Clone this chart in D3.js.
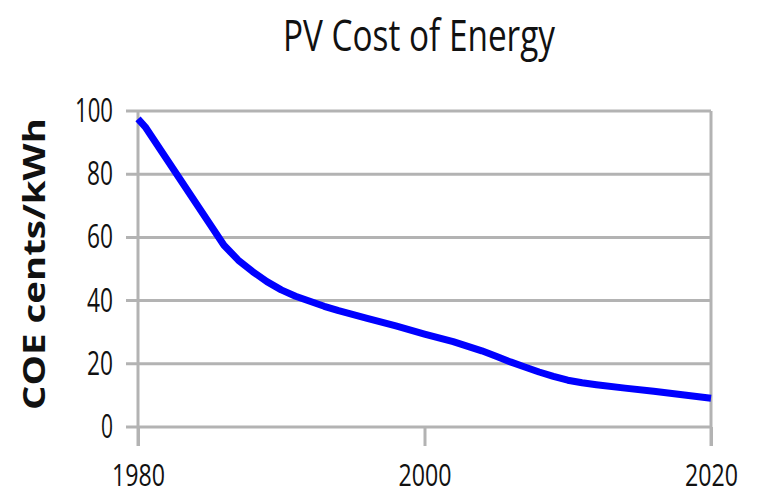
<!DOCTYPE html>
<html>
<head>
<meta charset="utf-8">
<script src="https://cdn.jsdelivr.net/npm/d3@7"></script>
<style>
  html, body { margin: 0; padding: 0; background: #fff; }
  svg { display: block; }
</style>
</head>
<body>
<svg id="chart" width="761" height="496"></svg>
<script>
// ---- data ----
const years = [1980, 1980.5, 1986, 1987, 1988, 1989, 1990, 1991, 1992, 1993, 1994, 1996, 1998, 2000, 2002, 2004, 2005, 2006, 2007, 2008, 2009, 2010, 2011, 2012, 2014, 2016, 2018, 2020];
const coe   = [97.5, 95,     57.5, 52.8, 49.2, 46.0, 43.4, 41.4, 39.8, 38.2, 36.8, 34.4, 32.0, 29.4, 27.0, 24.1, 22.4, 20.6, 19.0, 17.4, 16.0, 14.8, 14.0, 13.4, 12.3, 11.3, 10.2, 9.1];
const xTicks = [1980, 2000, 2020];
const yTicks = [0, 20, 40, 60, 80, 100];
const titleText = "PV Cost of Energy";
const yLabelText = "COE cents/kWh";

// ---- layout ----
const svg = d3.select("#chart");
const plotL = 138, plotR = 711, plotT = 111, plotB = 427;
const x = d3.scaleLinear().domain([1980, 2020]).range([plotL, plotR]);
const y = d3.scaleLinear().domain([0, 100]).range([plotB, plotT]);
const gridColor = "#b3b3b3";
const fontFam = "'Open Sans', 'DejaVu Sans', sans-serif";

// gridlines
svg.append("g").selectAll("line").data(yTicks).join("line")
  .attr("x1", plotL - 12).attr("x2", plotR)
  .attr("y1", d => y(d)).attr("y2", d => y(d))
  .attr("stroke", gridColor).attr("stroke-width", 3);

// vertical frame lines (left axis and right border)
svg.append("g").selectAll("line").data([1980, 2020]).join("line")
  .attr("x1", d => x(d)).attr("x2", d => x(d))
  .attr("y1", plotT).attr("y2", plotB + 19)
  .attr("stroke", gridColor).attr("stroke-width", 3);

// y axis labels
const yAxis = d3.axisLeft(y).tickValues(yTicks).tickSize(0).tickPadding(25);
const gy = svg.append("g").attr("transform", `translate(${plotL},0)`).call(yAxis);
gy.select(".domain").remove();
gy.selectAll("text")
  .attr("font-family", fontFam).attr("font-size", 33).attr("fill", "#111")
  .attr("textLength", d => d === 100 ? 38 : (d === 0 ? 12 : 26))
  .attr("lengthAdjust", "spacingAndGlyphs");

// x axis
const xAxis = d3.axisBottom(x).tickValues(xTicks).tickFormat(d3.format("d")).tickSize(19).tickPadding(0);
const gx = svg.append("g").attr("transform", `translate(0,${plotB})`).call(xAxis);
gx.select(".domain").remove();
gx.selectAll(".tick line").attr("stroke", gridColor).attr("stroke-width", 3);
gx.selectAll("text")
  .attr("font-family", fontFam).attr("font-size", 31).attr("fill", "#111")
  .attr("y", 59).attr("dy", 0)
  .attr("textLength", 53).attr("lengthAdjust", "spacingAndGlyphs");

// line
const line = d3.line().x((d, i) => x(years[i])).y(d => y(d)).curve(d3.curveLinear);
svg.append("path").datum(coe)
  .attr("d", line)
  .attr("fill", "none").attr("stroke", "#0000ff").attr("stroke-width", 7)
  .attr("stroke-linejoin", "round").attr("stroke-linecap", "butt");

// title
svg.append("text")
  .attr("x", 419).attr("y", 51).attr("text-anchor", "middle")
  .attr("font-family", fontFam).attr("font-size", 43).attr("fill", "#111")
  .attr("textLength", 272).attr("lengthAdjust", "spacingAndGlyphs")
  .text(titleText);

// y axis title
svg.append("text")
  .attr("transform", "translate(45,264) rotate(-90)")
  .attr("text-anchor", "middle")
  .attr("font-family", fontFam).attr("font-size", 31).attr("font-weight", "bold").attr("fill", "#111")
  .attr("textLength", 292).attr("lengthAdjust", "spacingAndGlyphs")
  .text(yLabelText);
</script>
</body>
</html>
